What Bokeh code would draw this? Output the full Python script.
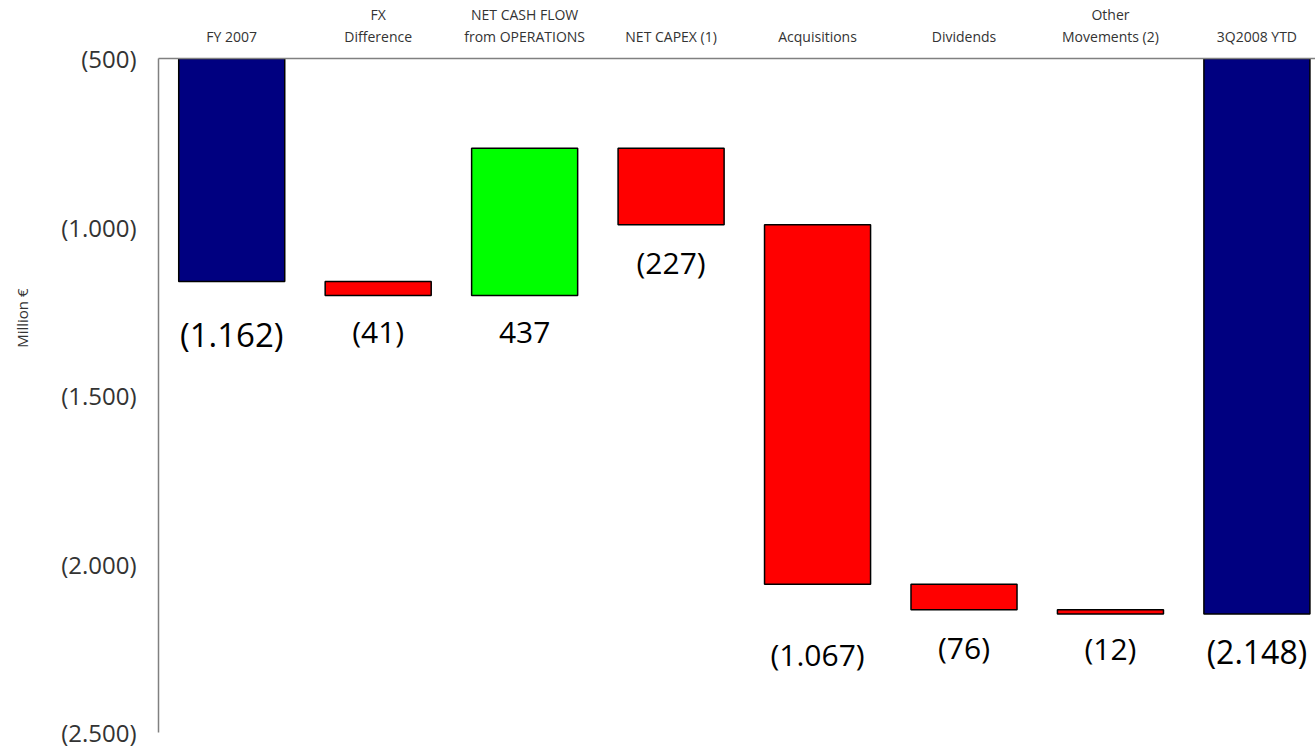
from bokeh.plotting import figure
from bokeh.models import LinearAxis, FixedTicker, Range1d, Title, ColumnDataSource
from bokeh.core.properties import value
from bokeh.embed import file_html
from bokeh.resources import INLINE

# ---- data ----
cat_line1 = ["", "FX", "NET CASH FLOW", "", "", "", "Other", ""]
cat_line2 = ["FY 2007", "Difference", "from OPERATIONS", "NET CAPEX (1)",
             "Acquisitions", "Dividends", "Movements (2)", "3Q2008 YTD"]
values = [-1162, -41, 437, -227, -1067, -76, -12, -2148]
kinds = ["total", "delta", "delta", "delta", "delta", "delta", "delta", "total"]
y_ticks = [-500, -1000, -1500, -2000, -2500]
y_tick_labels = ["(500)", "(1.000)", "(1.500)", "(2.000)", "(2.500)"]

# ---- styling ----
label_offsets = [53, 36, 37, 38, 70, 38, 35, 38]
label_sizes = ["33px", "30px", "30px", "30px", "30px", "30px", "30px", "32px"]
FONT = "Open Sans"

# ---- waterfall geometry ----
xs = [i + 0.5 for i in range(len(values))]
tops, bottoms, colors = [], [], []
running = 0
for v, k in zip(values, kinds):
    if k == "total":
        tops.append(0)
        bottoms.append(v)
        running = v
        colors.append("#000080")
    else:
        new = running + v
        tops.append(max(running, new))
        bottoms.append(min(running, new))
        running = new
        colors.append("#00FF00" if v > 0 else "#FF0000")


def fmt(v):
    s = f"{abs(v):,}".replace(",", ".")
    return f"({s})" if v < 0 else s


src = ColumnDataSource(dict(x=xs, top=tops, bottom=bottoms, color=colors,
                            label=[fmt(v) for v in values],
                            off=label_offsets, size=label_sizes))

p = figure(width=1315, height=749, output_backend="svg", toolbar_location=None,
           x_range=Range1d(0, 7.90), y_range=Range1d(-2500, -500),
           x_axis_location="above", min_border_left=158, min_border_right=0,
           min_border_top=58, min_border_bottom=17)
p.outline_line_color = None
p.xgrid.visible = False
p.ygrid.visible = False
p.background_fill_color = "white"
p.border_fill_color = "white"

p.vbar(x="x", top="top", bottom="bottom", width=0.724, fill_color="color",
       line_color="black", line_width=1.5, source=src)

p.text(x="x", y="bottom", text="label", y_offset="off", text_font_size="size",
       text_font=value(FONT), text_align="center", text_baseline="middle",
       text_color="black", source=src)

# inner top axis (second line of category labels)
ax_in = p.xaxis[0]
ax_in.ticker = FixedTicker(ticks=xs)
ax_in.major_label_overrides = {x: t for x, t in zip(xs, cat_line2)}
ax_in.major_tick_line_color = None
ax_in.minor_tick_line_color = None
ax_in.axis_line_color = "#808080"
ax_in.axis_line_width = 1.5
ax_in.major_label_standoff = 7
ax_in.major_label_text_font = FONT
ax_in.major_label_text_font_size = "14px"
ax_in.major_label_text_color = "#333333"

# outer top axis (first line)
ax_out = LinearAxis(ticker=FixedTicker(ticks=xs),
                    major_label_overrides={x: t for x, t in zip(xs, cat_line1)},
                    major_tick_line_color=None, minor_tick_line_color=None,
                    axis_line_color=None, major_label_standoff=-6,
                    major_label_text_font=FONT, major_label_text_font_size="14px",
                    major_label_text_color="#333333")
p.add_layout(ax_out, "above")

ya = p.yaxis[0]
ya.ticker = FixedTicker(ticks=y_ticks)
ya.major_label_overrides = {t: l for t, l in zip(y_ticks, y_tick_labels)}
ya.major_tick_line_color = None
ya.minor_tick_line_color = None
ya.axis_line_color = "#808080"
ya.axis_line_width = 1.5
ya.major_label_standoff = 16
ya.major_label_text_font = FONT
ya.major_label_text_font_size = "24px"
ya.major_label_text_color = "#333333"

p.add_layout(Title(text="Million €\n ", align="right", offset=230, standoff=14,
                   text_font=FONT, text_font_size="15px",
                   text_font_style="normal", text_color="#333333"), "left")

open("out.html", "w").write(file_html(p, INLINE))
